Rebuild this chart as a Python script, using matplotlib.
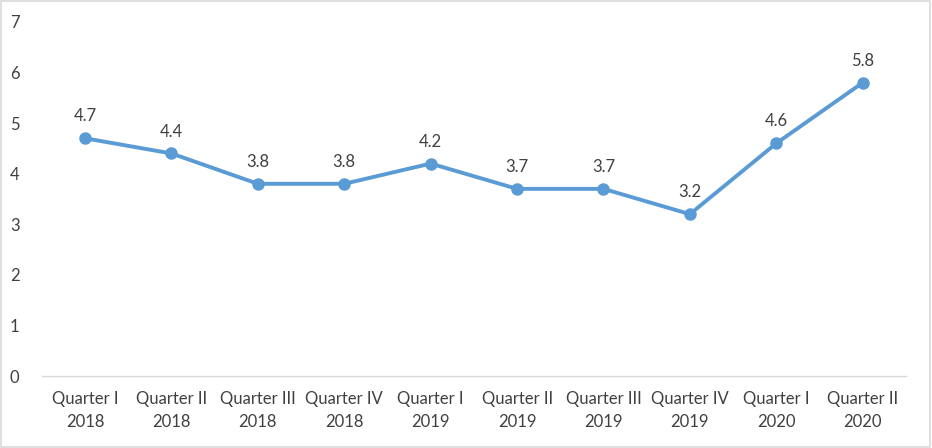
import matplotlib
matplotlib.use("Agg")
import matplotlib.pyplot as plt
from matplotlib.patches import Rectangle

categories = [
    "Quarter I\n2018", "Quarter II\n2018", "Quarter III\n2018", "Quarter IV\n2018",
    "Quarter I\n2019", "Quarter II\n2019", "Quarter III\n2019", "Quarter IV\n2019",
    "Quarter I\n2020", "Quarter II\n2020",
]
values = [4.7, 4.4, 3.8, 3.8, 4.2, 3.7, 3.7, 3.2, 4.6, 5.8]
y_ticks = [0, 1, 2, 3, 4, 5, 6, 7]

line_color = "#5B9BD5"
text_color = "#404040"

plt.rcParams["font.family"] = ["Lato", "DejaVu Sans"]

fig = plt.figure(figsize=(9.32, 4.48), dpi=100)
ax = fig.add_axes([0.0449, 0.1607, 0.9271, 0.7903])

x = list(range(len(values)))
ax.plot(x, values, color=line_color, linewidth=2.8, marker="o", markersize=8,
        solid_capstyle="round")

for xi, v in zip(x, values):
    ax.annotate(f"{v:.1f}", (xi, v), xytext=(0, 10), textcoords="offset points",
                ha="center", va="bottom", fontsize=12, color=text_color)

ax.set_xlim(-0.5, len(values) - 0.5)
ax.set_ylim(0, 7)
ax.set_yticks(y_ticks)
ax.set_xticks(x)
ax.set_xticklabels(categories, fontsize=12, color=text_color, linespacing=1.5)
ax.tick_params(axis="y", length=0, labelsize=12, labelcolor=text_color, pad=16)
ax.tick_params(axis="x", length=0, pad=11)

for side in ["top", "right", "left"]:
    ax.spines[side].set_visible(False)
ax.spines["bottom"].set_color("#D9D9D9")
ax.spines["bottom"].set_linewidth(1)

fig.patches.append(Rectangle((0.001, 0.002), 0.997, 0.995, transform=fig.transFigure,
                             fill=False, edgecolor="#D9D9D9", linewidth=1.2))

fig.savefig("out.png", dpi=100)
